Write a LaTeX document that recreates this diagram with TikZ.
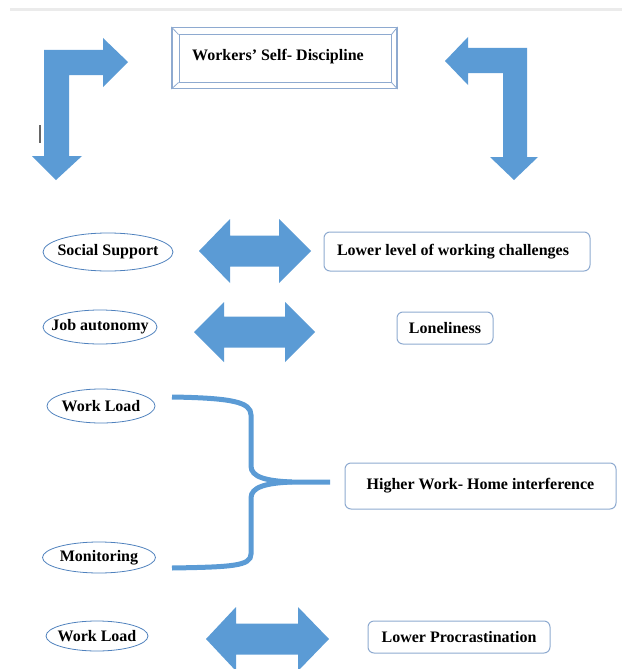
\documentclass[tikz,border=0pt]{standalone}
\usepackage{fontspec}
\setmainfont{Liberation Serif}
\usetikzlibrary{shapes.geometric,positioning}
\definecolor{arrblue}{HTML}{5B9BD5}
\definecolor{ovalline}{HTML}{4F81BD}
\definecolor{boxline}{HTML}{8EAAD0}
% block arrow pointing both ways: tipL, tipR, y, baseL, baseR, shaft half, head half
\newcommand{\dblarr}[7]{%
  \fill[arrblue] (#1,#3) -- (#4,#3-#7) -- (#4,#3-#6) -- (#5,#3-#6) -- (#5,#3-#7)
    -- (#2,#3) -- (#5,#3+#7) -- (#5,#3+#6) -- (#4,#3+#6) -- (#4,#3+#7) -- cycle;}
\newcommand{\ovtext}[1]{\makebox[0pt]{#1}}

\begin{document}
\begin{tikzpicture}[
  x=1pt, y=-1pt,
  txt/.style={font=\bfseries\fontsize{16}{18}\selectfont},
  oval/.style={txt, ellipse, draw=ovalline, line width=0.8pt, inner sep=0pt},
  rbox/.style={txt, draw=boxline, line width=1pt, rounded corners=6pt, inner sep=0pt},
  brace/.style={draw=arrblue, line width=5pt, line cap=butt}
]
  \useasboundingbox (0,0) rectangle (622,669);
  \draw[black!8, line width=3pt] (10,10) -- (622,10);

  % title box
  \node[draw=boxline, line width=1.2pt, minimum width=225pt, minimum height=61pt,
        inner sep=0pt] (title) at (284.5,58) {};
  \node[draw=boxline, line width=1pt, minimum width=212pt, minimum height=47pt,
        inner sep=0pt] (titlein) at (285,58.5) {};
  \foreach \c in {north west,north east,south west,south east}
    \draw[boxline, line width=0.8pt] (title.\c) -- (titlein.\c);
  \node[txt] (titletext) at (278,57) {Workers’ Self- Discipline};

  % bent arrows
  \fill[arrblue] (44,50) -- (103,50) -- (103,38) -- (128,62) -- (103,87) -- (103,75)
    -- (69,75) -- (69,156) -- (82,156) -- (56,180) -- (32,156) -- (44,156) -- cycle;
  \fill[arrblue] (527,48) -- (468,48) -- (468,37) -- (445,61) -- (468,85) -- (468,73)
    -- (503,73) -- (503,157) -- (490,157) -- (514,180) -- (538,157) -- (527,157) -- cycle;
  \draw[black!60, line width=1.2pt] (40,125) -- (40,143);

  % rows
  \node[oval, minimum width=130pt, minimum height=38pt] (social) at (108,252)
    {\ovtext{Social Support}};
  \dblarr{199}{311}{251}{230}{279}{15.5}{32}
  \node[rbox, minimum width=266pt, minimum height=39pt] (challenges) at (457,251.5)
    {\hspace*{-8pt}Lower level of working challenges};

  \node[oval, minimum width=114pt, minimum height=34pt] (autonomy) at (100,327)
    {\ovtext{Job autonomy}};
  \dblarr{194}{315}{332}{224}{285}{15.5}{30}
  \node[rbox, minimum width=96pt, minimum height=32pt] (lonely) at (445,328) {Loneliness};

  \node[oval, minimum width=108pt, minimum height=34pt] (workload) at (101,406)
    {\ovtext{Work Load}};
  \node[oval, minimum width=113pt, minimum height=31pt] (monitor) at (99,557.5)
    {\ovtext{Monitoring}};
  \path[brace] (172,397) .. controls (232,398) and (251,402) .. (251,415) -- (251,466)
    .. controls (251,477) and (266,481) .. (292,482) -- (330,482);
  \path[brace] (292,482) .. controls (266,483) and (251,487) .. (251,498) -- (251,554)
    .. controls (251,566) and (232,567) .. (172,568);
  \node[rbox, minimum width=271pt, minimum height=46pt] (interfere) at (480.5,486)
    {\raisebox{4pt}{Higher Work- Home interference}};

  \node[oval, minimum width=102pt, minimum height=30pt] (workload2) at (97,636)
    {\ovtext{Work Load}};
  \dblarr{206}{329}{639}{236}{298}{15.5}{32}
  \node[rbox, minimum width=182pt, minimum height=32pt] (procrast) at (459,637) {Lower Procrastination};
\end{tikzpicture}
\end{document}
